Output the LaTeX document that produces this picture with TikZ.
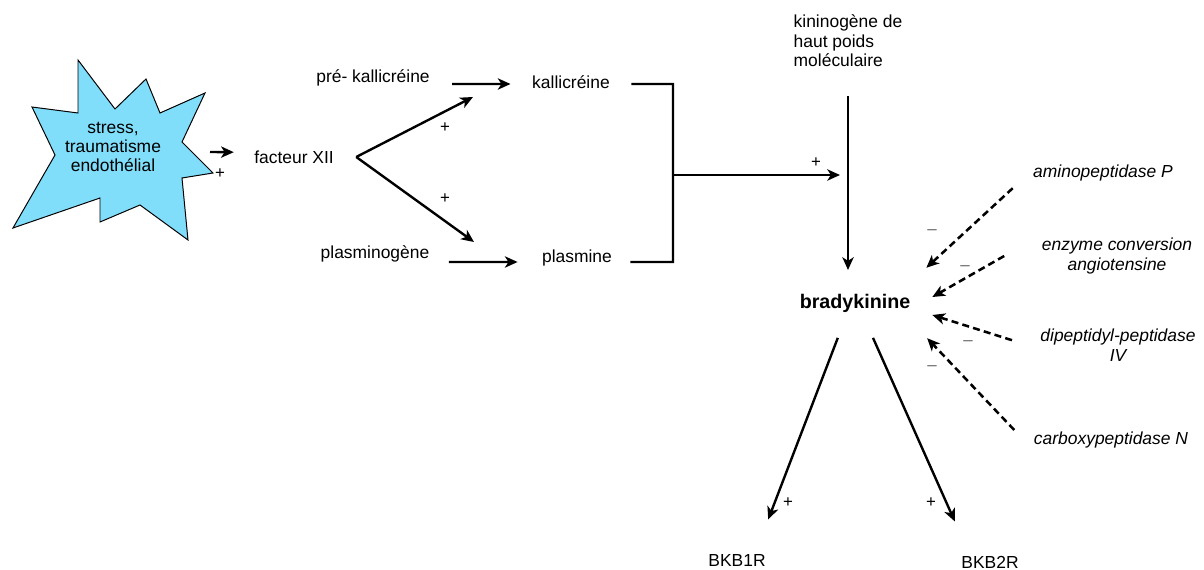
\documentclass[tikz,border=0pt]{standalone}
\usepackage{fontspec}
\setmainfont{Liberation Sans}
\usetikzlibrary{arrows.meta}
\definecolor{burstblue}{RGB}{128,222,250}
\tikzstyle{txt} = [font=\fontsize{12.4}{13.8}\selectfont, inner sep=3pt, align=center]
\tikzstyle{enzyme} = [txt, font=\fontsize{12.4}{13.8}\selectfont\itshape]
\tikzstyle{signnode} = [font=\fontsize{12}{13}\selectfont, inner sep=0pt]
\tikzstyle{line} = [line width=1.7pt]
\tikzstyle{arrow} = [line width=1.7pt,-{Stealth[length=9pt, width=8pt, inset=2.5pt]}]
\tikzstyle{inhib} = [line width=1.8pt,dash pattern=on 5pt off 3pt,-{Stealth[length=9pt, width=8pt, inset=2.5pt]}]
\begin{document}
\begin{tikzpicture}[x=0.025cm, y=-0.025cm]
\useasboundingbox (0,0) rectangle (1204,570);

\draw [fill=burstblue, line width=0.7pt] (78,60) -- (115,109) -- (146,79) -- (160,113) -- (205,93) -- (182,142) -- (213,173) -- (182,178) -- (188,240) -- (140,205) -- (100,222) -- (100,198) -- (13,228) -- (55,155) -- (32,107) -- (78,113) -- cycle;
\node [txt] (stress) at (113,147) {stress,\\traumatisme\\endothélial};

\node [txt] (facteur) at (294,157) {facteur XII};
\node [txt] (prekal) at (373,78) {pré- kallicréine};
\node [txt] (kal) at (571,82) {kallicréine};
\node [txt] (plasminogen) at (375,254) {plasminogène};
\node [txt] (plasmine) at (577,258) {plasmine};
\node [txt, align=left] (kinino) at (848,41) {kininogène de\\haut poids\\moléculaire};
\node [txt, font=\fontsize{14}{16}\selectfont\bfseries] (brady) at (855,303) {bradykinine};
\node [txt] (bkb1) at (737,560) {BKB1R};
\node [txt] (bkb2) at (990,562) {BKB2R};

\node [enzyme] (amino) at (1103,173) {aminopeptidase P};
\node [enzyme] (eca) at (1117,256) {enzyme conversion\\angiotensine};
\node [enzyme] (dpp) at (1118,345) {dipeptidyl-peptidase\\IV};
\node [enzyme] (carboxy) at (1111,440) {carboxypeptidase N};

\coordinate (burstTip) at (210,152);
\coordinate (kalIn) at (473,97);
\coordinate (plaIn) at (474,242);
\coordinate (joinTop) at (673,84);
\coordinate (joinMid) at (673,175);
\coordinate (joinBot) at (673,262);
\coordinate (kinMid) at (840,175);
\coordinate (bradyIn) at (848,270);

\draw [arrow] (burstTip) -- ([xshift=-0.4cm, yshift=0.12cm]facteur.west);
\draw [arrow] ([xshift=0.45cm]facteur.east) -- (kalIn);
\draw [arrow] ([xshift=0.45cm]facteur.east) -- (plaIn);
\draw [arrow] ([xshift=0.45cm, yshift=-0.15cm]prekal.east) -- ([xshift=-0.43cm, yshift=-0.05cm]kal.west);
\draw [arrow] ([xshift=0.38cm, yshift=-0.2cm]plasminogen.east) -- ([xshift=-0.5cm, yshift=-0.1cm]plasmine.west);
\draw [line] ([xshift=0.43cm, yshift=-0.05cm]kal.east) -- (joinTop) -- (joinBot) -- ([xshift=0.35cm, yshift=-0.1cm]plasmine.east);
\draw [arrow] (joinMid) -- (kinMid);
\draw [arrow] ([yshift=-0.62cm]kinino.south) -- (bradyIn);
\draw [arrow] ([xshift=-0.43cm, yshift=-0.53cm]brady.south) -- ([xshift=0.78cm, yshift=0.75cm]bkb1.north);
\draw [arrow] ([xshift=0.45cm, yshift=-0.53cm]brady.south) -- ([xshift=-0.88cm, yshift=0.75cm]bkb2.north);

\draw [inhib] ([xshift=-0.4cm, yshift=-0.38cm]amino.west) -- ([xshift=0.29cm, yshift=0.88cm]brady.east);
\draw [inhib] ([xshift=-0.83cm]eca.west) -- ([xshift=0.44cm, yshift=0.15cm]brady.east);
\draw [inhib] ([xshift=-0.6cm, yshift=0.12cm]dpp.west) -- ([xshift=0.44cm, yshift=-0.3cm]brady.east);
\draw [inhib] ([xshift=-0.38cm, yshift=0.25cm]carboxy.west) -- ([xshift=0.31cm, yshift=-0.88cm]brady.east);

\node [signnode] (plusBurst) at (220,174) {+};
\node [signnode] (plusKal) at (445,128) {+};
\node [signnode] (plusPla) at (445,199) {+};
\node [signnode] (plusKin) at (816,163) {+};
\node [signnode] (plusB1) at (788,503) {+};
\node [signnode] (plusB2) at (931,503) {+};
\node [signnode, text=black!60] (minusAmino) at (932,232) {--};
\node [signnode, text=black!60] (minusEca) at (965,268) {--};
\node [signnode, text=black!60] (minusDpp) at (968,343) {--};
\node [signnode, text=black!60] (minusCarboxy) at (932,368) {--};

\end{tikzpicture}
\end{document}
